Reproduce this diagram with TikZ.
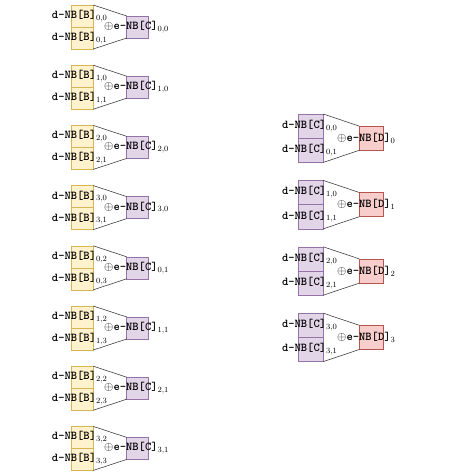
\documentclass[tikz,border=0pt]{standalone}
\definecolor{yellowF}{HTML}{FFF2CC}
\definecolor{yellowD}{HTML}{D6B656}
\definecolor{purpleF}{HTML}{E1D5E7}
\definecolor{purpleD}{HTML}{9673A6}
\definecolor{redF}{HTML}{F8CECC}
\definecolor{redD}{HTML}{B85450}
\begin{document}
\begin{tikzpicture}[x=1pt,y=-1pt,
  ybox/.style={draw=yellowD,fill=yellowF,line width=0.6pt,minimum width=21.6pt,minimum height=22pt,inner sep=0pt,outer sep=0pt},
  pbox/.style={draw=purpleD,fill=purpleF,line width=0.6pt,minimum width=21.6pt,minimum height=22pt,inner sep=0pt,outer sep=0pt},
  pbbox/.style={draw=purpleD,fill=purpleF,line width=0.6pt,minimum width=25pt,minimum height=24.2pt,inner sep=0pt,outer sep=0pt},
  rbox/.style={draw=redD,fill=redF,line width=0.6pt,minimum width=24pt,minimum height=24.2pt,inner sep=0pt,outer sep=0pt},
  conn/.style={draw=black!80,line width=0.55pt},
  lbl/.style={font=\fontsize{12}{14}\selectfont\ttfamily\bfseries,inner sep=0pt}]
\useasboundingbox (0,0) rectangle (454,472);
\foreach \i/\p/\q/\r in {0/{0,0}/{0,1}/{0,0},1/{1,0}/{1,1}/{1,0},2/{2,0}/{2,1}/{2,0},3/{3,0}/{3,1}/{3,0},4/{0,2}/{0,3}/{0,1},5/{1,2}/{1,3}/{1,1},6/{2,2}/{2,3}/{2,1},7/{3,2}/{3,3}/{3,1}}{
  \pgfmathsetmacro\t{5+60.2*\i}
  \node[ybox,anchor=north west] (Lt\i) at (71.7,\t) {};
  \node[ybox,anchor=north west] (Lb\i) at (Lt\i.south west) {};
  \node[pbox,anchor=west] (Lc\i) at (126.7,{\t+22}) {};
  \draw[conn] (Lt\i.north east) -- (Lc\i.north west);
  \draw[conn] (Lb\i.south east) -- (Lc\i.south west);
  \node[lbl,anchor=east] (Ltl\i) at ([xshift=3pt]Lt\i.east) {d-NB[B]\rlap{$_{\p}$}};
  \node[lbl,anchor=east] (Lbl\i) at ([xshift=3pt]Lb\i.east) {d-NB[B]\rlap{$_{\q}$}};
  \node[lbl,anchor=east] (Lcl\i) at ([xshift=9.5pt]Lc\i.east) {$\oplus$e-NB[C]\rlap{$_{\r}$}};
}
\foreach \j in {0,1,2,3}{
  \pgfmathsetmacro\t{114+66.4*\j}
  \node[pbbox,anchor=north west] (Rt\j) at (298.3,\t) {};
  \node[pbbox,anchor=north west] (Rb\j) at (Rt\j.south west) {};
  \node[rbox,anchor=west] (Rd\j) at (359.3,{\t+24.2}) {};
  \draw[conn] (Rt\j.north east) -- (Rd\j.north west);
  \draw[conn] (Rb\j.south east) -- (Rd\j.south west);
  \node[lbl,anchor=east] (Rtl\j) at ([xshift=3pt]Rt\j.east) {d-NB[C]\rlap{$_{\j,0}$}};
  \node[lbl,anchor=east] (Rbl\j) at ([xshift=3pt]Rb\j.east) {d-NB[C]\rlap{$_{\j,1}$}};
  \node[lbl,anchor=east] (Rdl\j) at ([xshift=7.5pt]Rd\j.east) {$\oplus$e-NB[D]\rlap{$_{\j}$}};
}
\end{tikzpicture}
\end{document}
